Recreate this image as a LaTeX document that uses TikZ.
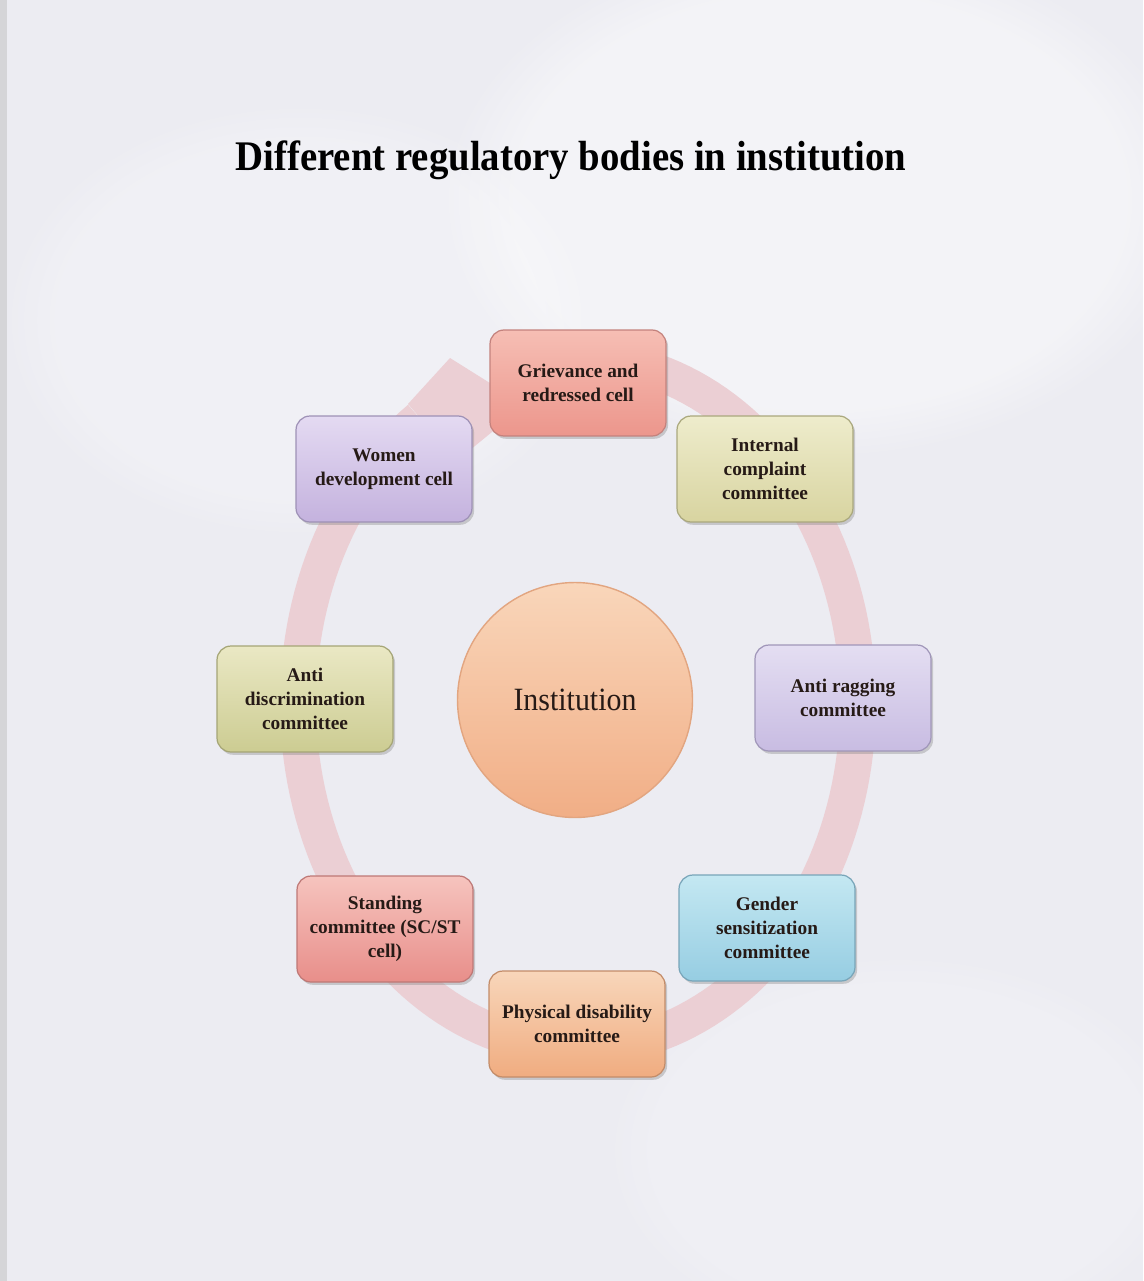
\documentclass[tikz,border=0pt]{standalone}
\usepackage{fontspec}
\setmainfont{Liberation Serif}
\usetikzlibrary{shadows,fadings,calc}

\definecolor{paper}{RGB}{236,236,242}
\definecolor{ringpink}{RGB}{235,207,212}
\definecolor{inktext}{RGB}{38,26,22}

\tikzset{
  cellbox/.style={rounded corners=0.28cm, minimum width=3.52cm, minimum height=2.12cm,
    align=center, inner sep=2pt, text=inktext,
    font=\fontsize{11}{13.7}\selectfont\bfseries, line width=0.7pt,
    drop shadow={opacity=0.35, shadow xshift=1.2pt, shadow yshift=-1.6pt}},
  hub/.style={circle, minimum size=4.7cm, inner sep=0pt, text=inktext,
    top color=hubtop, bottom color=hubbot, draw=hubedge, line width=0.8pt},
}
\newcommand{\cellcolors}[4]{%
  \definecolor{#1top}{RGB}{#2}\definecolor{#1bot}{RGB}{#3}\definecolor{#1edge}{RGB}{#4}}
\cellcolors{salmon}{246,190,180}{236,150,140}{196,130,125}
\cellcolors{olive}{238,236,204}{216,212,160}{170,168,125}
\cellcolors{lilac}{228,222,242}{200,188,226}{160,150,185}
\cellcolors{sky}{196,232,242}{150,205,226}{120,165,185}
\cellcolors{peach}{248,214,186}{240,172,128}{195,140,105}
\cellcolors{rose}{246,196,190}{232,142,138}{190,120,118}
\cellcolors{khaki}{234,232,196}{204,204,146}{165,165,118}
\cellcolors{mauve}{228,218,242}{196,178,222}{158,145,182}
\cellcolors{hub}{249,214,186}{241,174,134}{226,165,128}

\begin{document}
\begin{tikzpicture}[x=0.02cm, y=-0.02cm]
  \useasboundingbox (0,0) rectangle (1143,1281);
  % paper background with soft lighter patches
  \begin{scope}
    \clip (0,0) rectangle (1143,1281);
    \fill[paper] (0,0) rectangle (1143,1281);
    \fill[white, opacity=0.4, path fading=circle with fuzzy edge 20 percent]
      (820,200) ellipse [x radius=380, y radius=260];
    \fill[white, opacity=0.25, path fading=circle with fuzzy edge 20 percent]
      (300,320) ellipse [x radius=300, y radius=220];
    \fill[white, opacity=0.2, path fading=circle with fuzzy edge 20 percent]
      (900,1150) ellipse [x radius=300, y radius=200];
    \fill[black!25, opacity=0.5] (0,0) rectangle (7,1281);
  \end{scope}

  % title
  \node (title) at (571,160)
    {\scalebox{0.92}[1]{\fontsize{24}{28}\selectfont\bfseries Different regulatory bodies in institution}};

  % circular band with its arrow head
  \draw[ringpink, line width=0.72cm]
    plot[domain=-235.6:76, samples=160, variable=\t] ({578+280*cos(\t)}, {703-345*sin(\t)});
  \coordinate (hO) at (408,404);
  \coordinate (hW1) at (450,358);
  \coordinate (hT) at (525,405);
  \coordinate (hW2) at (470,450);
  \coordinate (hI) at (432,432);
  \fill[ringpink] (hO) -- (hW1) -- (hT) -- (hW2) -- (hI) -- cycle;

  % centre
  \node[hub] (inst) at (575,700)
    {\scalebox{0.92}[1]{\fontsize{18.5}{22}\selectfont Institution}};

  % cells around the cycle
  \node[cellbox, top color=salmontop, bottom color=salmonbot, draw=salmonedge] (griev) at (578,383)
    {Grievance and\\redressed cell};
  \node[cellbox, top color=olivetop, bottom color=olivebot, draw=oliveedge] (icc) at (765,469)
    {Internal\\complaint\\committee};
  \node[cellbox, top color=lilactop, bottom color=lilacbot, draw=lilacedge] (rag) at (843,698)
    {Anti ragging\\committee};
  \node[cellbox, top color=skytop, bottom color=skybot, draw=skyedge] (gender) at (767,928)
    {Gender\\sensitization\\committee};
  \node[cellbox, top color=peachtop, bottom color=peachbot, draw=peachedge] (phys) at (577,1024)
    {Physical disability\\committee};
  \node[cellbox, top color=rosetop, bottom color=rosebot, draw=roseedge] (scst) at (385,929)
    {Standing\\committee (SC/ST\\cell)};
  \node[cellbox, top color=khakitop, bottom color=khakibot, draw=khakiedge] (disc) at (305,699)
    {Anti\\discrimination\\committee};
  \node[cellbox, top color=mauvetop, bottom color=mauvebot, draw=mauveedge] (women) at (384,469)
    {Women\\development cell};
\end{tikzpicture}
\end{document}
